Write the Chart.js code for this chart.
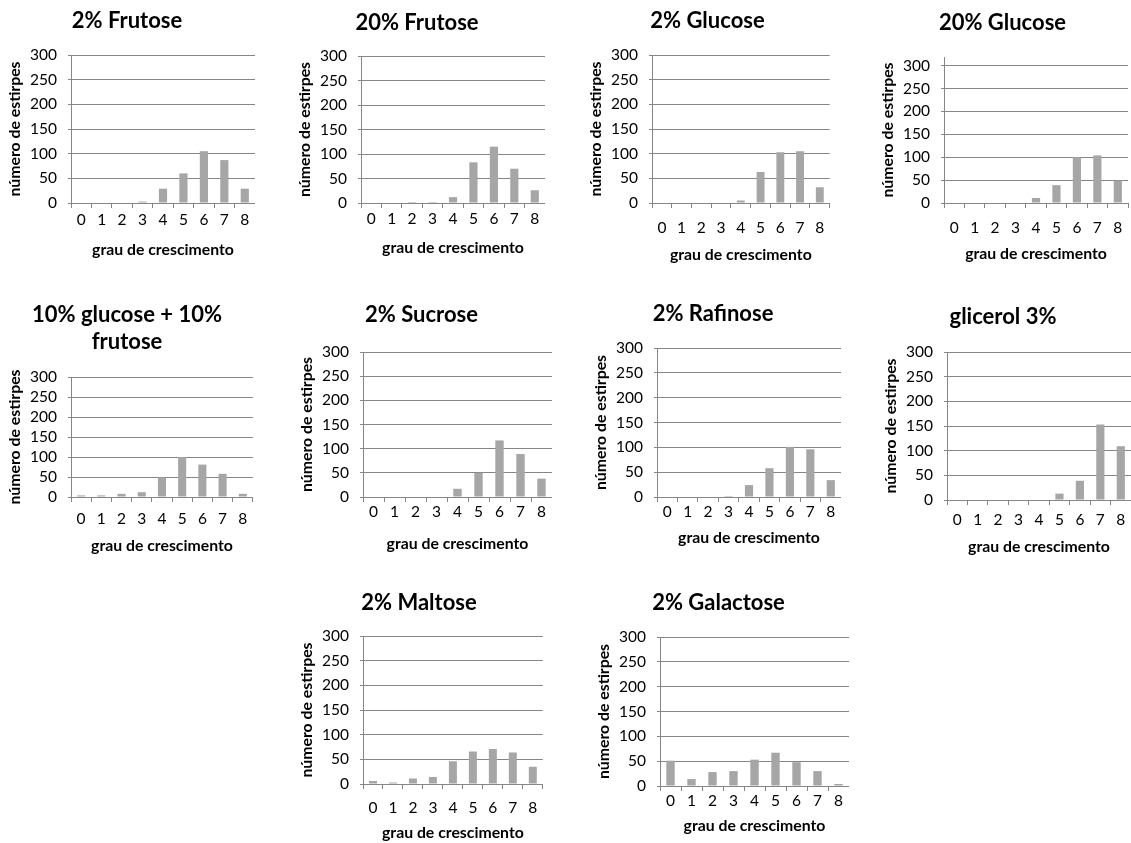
<!DOCTYPE html>
<html>
<head>
<meta charset="utf-8">
<title>Grau de crescimento por fonte de carbono</title>
<script src="https://cdn.jsdelivr.net/npm/chart.js@4.4.1/dist/chart.umd.min.js"></script>
<style>
  html, body { margin: 0; padding: 0; background: #ffffff; }
  body { width: 1131px; height: 843px; overflow: hidden; position: relative; }
  canvas { position: absolute; display: block; }
</style>
</head>
<body>
<script>
// ---- data -------------------------------------------------------------
const grades = ['0', '1', '2', '3', '4', '5', '6', '7', '8'];
const countTicks = [0, 50, 100, 150, 200, 250, 300];

const titles = [
  '2% Frutose', '20% Frutose', '2% Glucose', '20% Glucose',
  ['10% glucose + 10%', 'frutose'], '2% Sucrose', '2% Rafinose', 'glicerol 3%',
  '2% Maltose', '2% Galactose'
];

const frutose2   = [0, 0, 0, 3, 29, 60, 105, 87, 29];
const frutose20  = [0, 0, 2, 2, 12, 83, 115, 70, 26];
const glucose2   = [0, 0, 0, 0, 5, 63, 103, 105, 32];
const glucose20  = [0, 0, 0, 0, 11, 39, 100, 104, 49];
const glucoseFrutose = [4, 4, 8, 12, 49, 100, 81, 58, 8];
const sucrose2   = [0, 0, 0, 0, 17, 50, 117, 89, 38];
const rafinose2  = [0, 0, 0, 2, 24, 58, 101, 96, 34];
const glicerol3  = [1, 0, 0, 0, 1, 13, 39, 153, 109];
const maltose2   = [6, 3, 11, 14, 46, 66, 71, 64, 35];
const galactose2 = [51, 14, 28, 30, 53, 67, 48, 30, 4];

const series = [frutose2, frutose20, glucose2, glucose20, glucoseFrutose,
                sucrose2, rafinose2, glicerol3, maltose2, galactose2];

const xAxisTitle = 'grau de crescimento';
const yAxisTitle = 'número de estirpes';

// ---- panel geometry (plot area edges in page pixels) -------------------
const panels = [
  { l: 71,  r: 255,  t: 55,  b: 203, titleY: 21,  tickGap: 17, titleGap: 47, yMax: 300 },
  { l: 361, r: 545,  t: 56,  b: 203, titleY: 23,  tickGap: 16, titleGap: 45, yMax: 300 },
  { l: 652, r: 835,  t: 55,  b: 203, titleY: 21,  tickGap: 25, titleGap: 52, yMax: 300 },
  { l: 944, r: 1133, t: 57,  b: 203, titleY: 23,  tickGap: 25, titleGap: 51, yMax: 319 },
  { l: 71,  r: 255,  t: 377, b: 497, titleY: 315, tickGap: 22, titleGap: 49, yMax: 300 },
  { l: 363, r: 552,  t: 352, b: 497, titleY: 315, tickGap: 15, titleGap: 47, yMax: 300 },
  { l: 657, r: 841,  t: 348, b: 497, titleY: 314, tickGap: 15, titleGap: 41, yMax: 300 },
  { l: 947, r: 1131, t: 352, b: 500, titleY: 317, tickGap: 20, titleGap: 47, yMax: 300 },
  { l: 363, r: 547,  t: 636, b: 784, titleY: 603, tickGap: 24, titleGap: 49, yMax: 300 },
  { l: 660, r: 849,  t: 637, b: 786, titleY: 603, tickGap: 15, titleGap: 40, yMax: 300 }
];

// ---- styling ------------------------------------------------------------
const FONT = 'Lato, "Open Sans", "Liberation Sans", sans-serif';
const BAR_COLOR = '#a6a6a6';
const AXIS_COLOR = '#868686';
const TITLE_SIZE = 22, TITLE_LH = 1.25;
const AXIS_TITLE_SIZE = 15.8, AXIS_TITLE_LH = 1.2;
const TICK_SIZE = 15.5, TICK_LH = 1.2;
const Y_AXIS_W = 72;
const X_TICK_LEN = 5;

panels.forEach((p, i) => {
  const text = titles[i];
  const lines = Array.isArray(text) ? text.length : 1;
  const titleLine = TITLE_SIZE * TITLE_LH;
  const left = p.l - Y_AXIS_W;
  const top = Math.round(p.titleY - titleLine / 2);
  const plotBottom = p.b - top;
  const xAxisH = Math.round(p.titleGap + AXIS_TITLE_SIZE * AXIS_TITLE_LH / 2 + 6);
  const width = p.r - left;
  const height = plotBottom + xAxisH;
  const titlePadBottom = (p.t - top) - lines * titleLine;
  const xTickPad = p.tickGap - X_TICK_LEN - TICK_SIZE * TICK_LH / 2;
  const yTitlePad = 16 - AXIS_TITLE_SIZE * AXIS_TITLE_LH / 2;

  const canvas = document.createElement('canvas');
  canvas.width = width;
  canvas.height = height;
  canvas.style.left = left + 'px';
  canvas.style.top = top + 'px';
  canvas.style.width = width + 'px';
  canvas.style.height = height + 'px';
  document.body.appendChild(canvas);

  new Chart(canvas, {
    type: 'bar',
    data: {
      labels: grades,
      datasets: [{
        data: series[i],
        backgroundColor: BAR_COLOR,
        borderWidth: 0,
        barPercentage: 0.4,
        categoryPercentage: 1.0
      }]
    },
    options: {
      responsive: false,
      animation: false,
      devicePixelRatio: 1,
      layout: { padding: 0 },
      plugins: {
        legend: { display: false },
        tooltip: { enabled: false },
        title: {
          display: true,
          text: text,
          color: '#000000',
          font: { family: FONT, size: TITLE_SIZE, weight: 'bold', lineHeight: TITLE_LH },
          padding: { top: 0, bottom: titlePadBottom }
        }
      },
      scales: {
        x: {
          grid: {
            offset: true,
            drawOnChartArea: false,
            drawTicks: true,
            tickLength: X_TICK_LEN,
            color: AXIS_COLOR,
            lineWidth: 1
          },
          border: { display: true, color: AXIS_COLOR, width: 1 },
          ticks: {
            color: '#000000',
            font: { family: FONT, size: TICK_SIZE, lineHeight: TICK_LH },
            padding: xTickPad,
            maxRotation: 0,
            autoSkip: false
          },
          title: {
            display: true,
            text: xAxisTitle,
            color: '#000000',
            font: { family: FONT, size: AXIS_TITLE_SIZE, weight: 'bold', lineHeight: AXIS_TITLE_LH },
            padding: { top: 0, bottom: 6 }
          },
          afterFit: (scale) => { scale.height = xAxisH; }
        },
        y: {
          min: 0,
          max: p.yMax,
          afterBuildTicks: (scale) => {
            scale.ticks = countTicks.map(v => ({ value: v }));
          },
          grid: {
            color: AXIS_COLOR,
            lineWidth: 1,
            drawTicks: true,
            tickLength: 3
          },
          border: { display: true, color: AXIS_COLOR, width: 1 },
          ticks: {
            color: '#000000',
            font: { family: FONT, size: TICK_SIZE, lineHeight: TICK_LH },
            padding: 11,
            autoSkip: false
          },
          title: {
            display: true,
            text: yAxisTitle,
            color: '#000000',
            font: { family: FONT, size: AXIS_TITLE_SIZE, weight: 'bold', lineHeight: AXIS_TITLE_LH },
            padding: { top: yTitlePad, bottom: 0 }
          },
          afterFit: (scale) => { scale.width = Y_AXIS_W; }
        }
      }
    }
  });
});
</script>
</body>
</html>
